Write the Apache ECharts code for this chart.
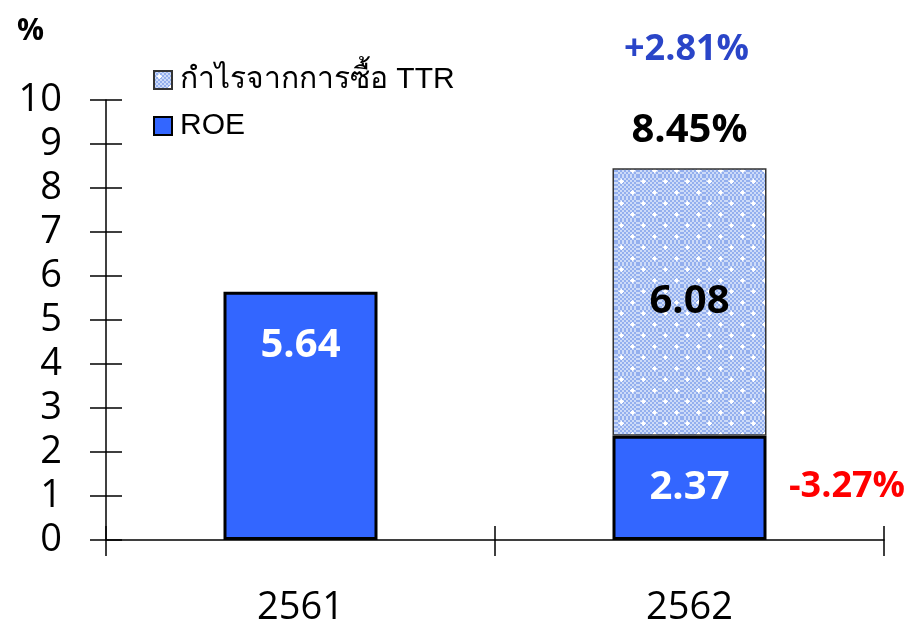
<!DOCTYPE html>
<html>
<head>
<meta charset="utf-8">
<script src="https://cdn.jsdelivr.net/npm/echarts@6/dist/echarts.min.js"></script>
<style>
  html, body { margin: 0; padding: 0; background: #fff; }
  #main { width: 914px; height: 621px; }
</style>
</head>
<body>
<div id="main"></div>
<script>
// ข้อมูล
const categories = ['2561', '2562'];
const roeValues = [5.64, 2.37];
const ttrValues = [null, 6.08];
const totalLabels = ['', '8.45%'];
const yTicks = [0, 1, 2, 3, 4, 5, 6, 7, 8, 9, 10];
const ttrChange = '+2.81%';
const roeChange = '-3.27%';

const FONT = '"Open Sans", "Noto Sans", sans-serif';

// ลายจุดของแท่ง TTR
function makePattern() {
  const c = document.createElement('canvas');
  c.width = 22; c.height = 22;
  const ctx = c.getContext('2d');
  for (let y = 0; y < 22; y += 2) {
    for (let x = 0; x < 22; x += 2) {
      ctx.fillStyle = ((x + y) / 2) % 2 === 0 ? '#93afee' : '#cddbf8';
      ctx.fillRect(x, y, 2, 2);
    }
  }
  ctx.fillStyle = '#ffffff';
  [[5, 5], [16, 16]].forEach(function (p) {
    ctx.fillRect(p[0] - 1, p[1] - 1, 3, 3);
    ctx.fillRect(p[0] - 2, p[1], 5, 1);
    ctx.fillRect(p[0], p[1] - 2, 1, 5);
  });
  return c;
}

const myChart = echarts.init(document.getElementById('main'));
const pattern = { image: makePattern(), repeat: 'repeat' };

const tickStyle = { color: '#000', width: 1.5 };

const option = {
  backgroundColor: '#ffffff',
  animation: false,
  textStyle: { fontFamily: FONT },
  legend: {
    orient: 'vertical',
    left: 148,
    top: 60,
    icon: 'rect',
    itemWidth: 18,
    itemHeight: 18,
    itemGap: 16,
    data: ['กำไรจากการซื้อ TTR', 'ROE'],
    textStyle: {
      fontSize: 30, color: '#000',
      fontFamily: '"Liberation Sans", "Noto Sans", sans-serif',
      padding: [0, 0, 0, 3]
    }
  },
  grid: { left: 106, right: 30, top: 100, bottom: 81, outerBoundsMode: 'none' },
  xAxis: [
    {
      type: 'category',
      data: categories,
      axisLine: { show: true, lineStyle: tickStyle },
      axisTick: { show: true, length: 16, lineStyle: tickStyle },
      axisLabel: { fontSize: 38, color: '#000', margin: 49 }
    },
    {
      type: 'category',
      data: categories,
      position: 'top',
      offset: -440,
      axisLine: { show: false },
      axisTick: { show: true, length: 14, lineStyle: tickStyle },
      axisLabel: { show: false }
    }
  ],
  yAxis: [
    {
      type: 'value',
      min: 0, max: 10, interval: 1,
      splitLine: { show: false },
      axisLine: { show: true, lineStyle: tickStyle },
      axisTick: { show: true, length: 16, lineStyle: tickStyle },
      axisLabel: {
        fontSize: 38, color: '#000', margin: 44,
        formatter: function (v) { return yTicks.indexOf(v) >= 0 ? String(v) : ''; }
      }
    },
    {
      type: 'value',
      min: 0, max: 10, interval: 1,
      position: 'right',
      offset: -778,
      splitLine: { show: false },
      axisLine: { show: false },
      axisTick: { show: true, length: 16, lineStyle: tickStyle },
      axisLabel: { show: false }
    }
  ],
  series: [
    {
      name: 'ROE',
      type: 'bar',
      stack: 'total',
      barWidth: 154,
      data: roeValues.map(function (v, i) {
        return i === 0 ? { value: v, label: { position: 'insideTop', distance: 34 } } : v;
      }),
      itemStyle: { color: '#3366ff', borderColor: '#000', borderWidth: 3 },
      label: {
        show: true, position: 'inside', color: '#fff',
        fontSize: 40, fontWeight: 'bold', fontFamily: FONT
      }
    },
    {
      name: 'กำไรจากการซื้อ TTR',
      type: 'bar',
      stack: 'total',
      barWidth: 154,
      data: ttrValues,
      itemStyle: { color: pattern, borderColor: '#333', borderWidth: 1.5 },
      label: {
        show: true, position: 'inside', color: '#000',
        fontSize: 40, fontWeight: 'bold', fontFamily: FONT
      }
    },
    {
      name: 'total',
      type: 'bar',
      stack: 'total',
      barWidth: 154,
      data: [0, 0],
      itemStyle: { color: 'transparent' },
      label: {
        show: true, position: 'top', distance: 18, color: '#000',
        fontSize: 40, fontWeight: 'bold', fontFamily: FONT,
        formatter: function (p) { return totalLabels[p.dataIndex]; }
      }
    }
  ],
  graphic: [
    {
      type: 'text', left: 17, top: 16,
      style: { text: '%', fontSize: 30, fontWeight: 'bold', fill: '#000', fontFamily: FONT }
    },
    {
      type: 'text', left: 624, top: 32,
      style: { text: ttrChange, fontSize: 36, fontWeight: 'bold', fill: '#2a45c8', fontFamily: FONT }
    },
    {
      type: 'text', left: 789, top: 469,
      style: { text: roeChange, fontSize: 36, fontWeight: 'bold', fill: '#ff0000', fontFamily: FONT }
    }
  ]
};

option && myChart.setOption(option);
</script>
</body>
</html>
